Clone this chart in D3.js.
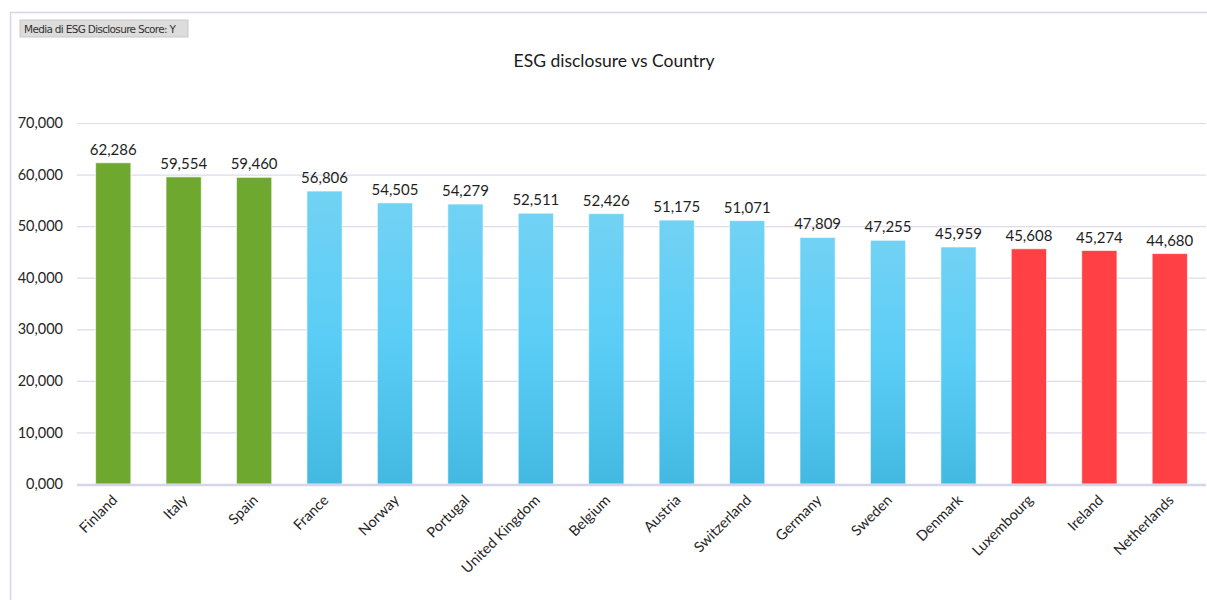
<!DOCTYPE html>
<html>
<head>
<meta charset="utf-8">
<script src="https://cdn.jsdelivr.net/npm/d3@7"></script>
<style>
  body { margin: 0; background: #fff; }
  svg { display: block; font-family: Lato, "Open Sans", sans-serif; }
</style>
</head>
<body>
<svg id="chart"></svg>
<script>
// data (italian decimal comma)
const countries = ["Finland","Italy","Spain","France","Norway","Portugal","United Kingdom","Belgium","Austria","Switzerland","Germany","Sweden","Denmark","Luxembourg","Ireland","Netherlands"];
const scores = [62.286,59.554,59.460,56.806,54.505,54.279,52.511,52.426,51.175,51.071,47.809,47.255,45.959,45.608,45.274,44.680];
const groups = ["top","top","top","mid","mid","mid","mid","mid","mid","mid","mid","mid","mid","low","low","low"];
const yTicks = [0,10,20,30,40,50,60,70];

const w = 1207, h = 600;
const plotLeft = 78, plotRight = 1205, plotTop = 123, plotBottom = 484;

let itFormat = d3.formatLocale({ decimal: ",", thousands: ".", grouping: [3], currency: ["", "€"] }).format(".3f");

let svg = d3.select("#chart").attr("width", w).attr("height", h);

// frame of the pivot chart
svg.append("path")
  .attr("d", `M10.5,${h} V12.5 H${w}`)
  .attr("fill", "none").attr("stroke", "#d4d4ea").attr("stroke-width", 1.5);

// field button
svg.append("rect").attr("x", 20).attr("y", 20).attr("width", 168).attr("height", 17)
  .attr("fill", "#dcdcdc").attr("stroke", "#c8c8c8");
svg.append("text").attr("x", 24).attr("y", 32.5)
  .attr("font-size", 10.5).attr("fill", "#333")
  .attr("font-family", "'DejaVu Sans', sans-serif").attr("textLength", 152)
  .text("Media di ESG Disclosure Score: Y");

svg.append("text").attr("x", 614).attr("y", 67).attr("text-anchor", "middle")
  .attr("font-size", 17.5).attr("fill", "#1a1a1a")
  .text("ESG disclosure vs Country");

let xScale = d3.scaleBand().domain(countries).range([plotLeft, plotRight]).paddingInner(0.5).paddingOuter(0.25);
let yScale = d3.scaleLinear().domain([0, 70]).range([plotBottom, plotTop]);

// gradient for the blue bars
let defs = svg.append("defs");
let grad = defs.append("linearGradient").attr("id", "blueGrad").attr("x1", 0).attr("y1", 0).attr("x2", 0).attr("y2", 1);
grad.append("stop").attr("offset", "0%").attr("stop-color", "#72d2f4");
grad.append("stop").attr("offset", "50%").attr("stop-color", "#5acdf6");
grad.append("stop").attr("offset", "100%").attr("stop-color", "#43b9e1");

const fills = { top: "#6fa82f", mid: "url(#blueGrad)", low: "#ff4044" };

// grid + y labels
let yAxis = d3.axisLeft(yScale).tickValues(yTicks)
  .tickSize(-(plotRight - plotLeft + 2)).tickPadding(14)
  .tickFormat(itFormat);
let gy = svg.append("g").attr("transform", `translate(${plotLeft - 1},0)`).call(yAxis);
gy.select(".domain").remove();
gy.selectAll(".tick line").attr("stroke", "#dcdcee").attr("stroke-width", 1.2);
gy.selectAll(".tick text").attr("font-size", 14.5).attr("fill", "#262626").attr("font-family", "Lato, sans-serif");

// bars
svg.selectAll(".bar").data(countries).enter().append("rect")
  .attr("class", "bar")
  .attr("x", d => xScale(d))
  .attr("width", xScale.bandwidth())
  .attr("y", (d, i) => yScale(scores[i]))
  .attr("height", (d, i) => yScale(0) - yScale(scores[i]))
  .attr("fill", (d, i) => fills[groups[i]])
  .attr("stroke", "rgba(255,255,255,0.6)").attr("stroke-width", 1);

// value labels
svg.selectAll(".val").data(countries).enter().append("text")
  .attr("x", d => xScale(d) + xScale.bandwidth() / 2)
  .attr("y", (d, i) => yScale(scores[i]) - 8)
  .attr("text-anchor", "middle").attr("font-size", 15).attr("fill", "#1e1e1e")
  .text((d, i) => itFormat(scores[i]));

// x axis
let xAxis = d3.axisBottom(xScale).tickSize(0).tickPadding(0);
let gx = svg.append("g").attr("transform", `translate(0,${plotBottom + 1})`).call(xAxis);
gx.select(".domain").attr("d", `M${plotLeft - 1},0H${plotRight + 1}`).attr("stroke", "#d4d4ea").attr("stroke-width", 2.5);
gx.selectAll(".tick text")
  .attr("font-size", 14.5).attr("fill", "#262626").attr("font-family", "Lato, sans-serif")
  .attr("text-anchor", "end")
  .attr("transform", "translate(5,16) rotate(-45)")
  .attr("dy", 0);
</script>
</body>
</html>
